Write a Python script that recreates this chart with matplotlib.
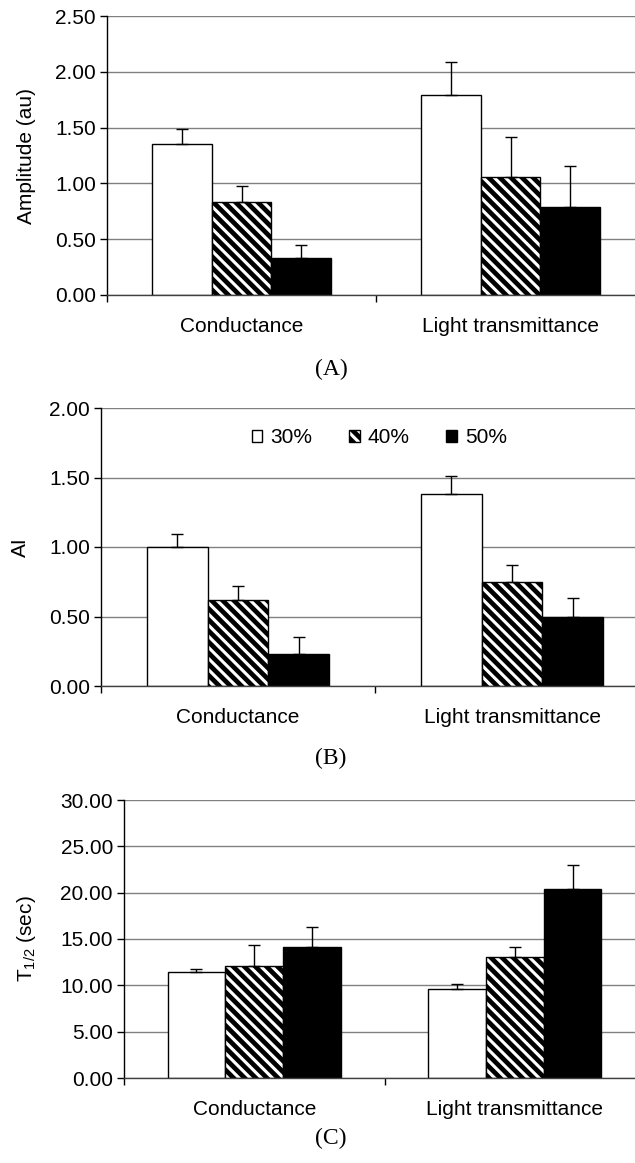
import matplotlib
matplotlib.use("Agg")
import matplotlib.pyplot as plt
from matplotlib.patches import Patch
import numpy as np

plt.rcParams['font.family'] = ['Liberation Sans', 'DejaVu Sans']
plt.rcParams['mathtext.default'] = 'regular'
plt.rcParams['hatch.linewidth'] = 3.4
plt.rcParams['hatch.color'] = 'black'

# ---------------- data ----------------
categories = ["Conductance", "Light transmittance"]
series_labels = ["30%", "40%", "50%"]

# Panel A: Amplitude (au)
amp_30 = [1.35, 1.79]
amp_40 = [0.83, 1.06]
amp_50 = [0.33, 0.79]
amp_30_err = [0.14, 0.30]
amp_40_err = [0.15, 0.36]
amp_50_err = [0.12, 0.37]

# Panel B: AI
ai_30 = [1.00, 1.38]
ai_40 = [0.62, 0.75]
ai_50 = [0.23, 0.50]
ai_30_err = [0.09, 0.13]
ai_40_err = [0.10, 0.12]
ai_50_err = [0.12, 0.13]

# Panel C: T1/2 (sec)
t_30 = [11.45, 9.60]
t_40 = [12.05, 13.05]
t_50 = [14.10, 20.35]
t_30_err = [0.30, 0.55]
t_40_err = [2.35, 1.05]
t_50_err = [2.15, 2.65]

yticks_a = [0.0, 0.5, 1.0, 1.5, 2.0, 2.5]
yticks_b = [0.0, 0.5, 1.0, 1.5, 2.0]
yticks_c = [0, 5, 10, 15, 20, 25, 30]

# ---------------- layout ----------------
W, H = 635, 1163
fig = plt.figure(figsize=(W / 100, H / 100), dpi=100)

def rect(left, right, top, bottom):
    return [left / W, (H - bottom) / H, (right - left) / W, (bottom - top) / H]

FS = 15
styles = [dict(facecolor='white', hatch=None),
          dict(facecolor='white', hatch='\\\\\\'),
          dict(facecolor='black', hatch=None)]

def panel(r, s30, s40, s50, e30, e40, e50, yticks, ylabel, ylabel_x,
          panel_label, plx, ply):
    ax = fig.add_axes(rect(*r))
    x = np.arange(len(categories)) + 0.5
    w = 0.222
    for i, (vals, errs) in enumerate([(s30, e30), (s40, e40), (s50, e50)]):
        xi = x + (i - 1) * w
        ax.bar(xi, vals, width=w, edgecolor='black', linewidth=1.0,
               zorder=2, label=series_labels[i], **styles[i])
        ax.errorbar(xi, vals, yerr=[np.zeros(len(vals)), errs], fmt='none',
                    ecolor='black', elinewidth=1.0, capsize=4, capthick=1.0,
                    zorder=3)
    ax.set_xlim(0, len(categories))
    ax.set_ylim(yticks[0], yticks[-1])
    ax.set_yticks(yticks)
    ax.set_yticklabels([f"{t:.2f}" for t in yticks], fontsize=FS)
    ax.set_xticks([0, 1, 2])
    ax.set_xticklabels([])
    ax.tick_params(axis='x', length=5, width=1, direction='out', color='black')
    ax.tick_params(axis='y', length=5, width=1, direction='out', pad=3,
                   color='black')
    ax.yaxis.grid(True, color='#808080', linewidth=1.0)
    ax.set_axisbelow(True)
    for s in ['top', 'right']:
        ax.spines[s].set_visible(False)
    ax.spines['left'].set_color('black')
    ax.spines['left'].set_linewidth(1.0)
    ax.spines['bottom'].set_color('#404040')
    ax.spines['bottom'].set_linewidth(1.0)
    for xc, lab in zip(x, categories):
        ax.annotate(lab, xy=(xc, 0), xycoords=('data', 'axes fraction'),
                    xytext=(0, -22.5), textcoords='offset points',
                    ha='center', va='center', fontsize=FS)
    ycen = (r[2] + r[3]) / 2
    fig.text(ylabel_x / W, 1 - ycen / H, ylabel, rotation=90,
             ha='center', va='center', fontsize=FS)
    fig.text(plx / W, 1 - ply / H, panel_label, ha='center', va='center',
             fontsize=17, family=['Liberation Serif', 'DejaVu Serif'])
    return ax

axA = panel((107, 645, 16, 295), amp_30, amp_40, amp_50,
            amp_30_err, amp_40_err, amp_50_err, yticks_a,
            "Amplitude (au)", 26, "(A)", 331, 369)
axB = panel((101, 649, 408, 686), ai_30, ai_40, ai_50,
            ai_30_err, ai_40_err, ai_50_err, yticks_b,
            "AI", 20, "(B)", 331, 758)
axC = panel((124, 645, 800, 1078), t_30, t_40, t_50,
            t_30_err, t_40_err, t_50_err, yticks_c,
            "T$_{1/2}$ (sec)", 26, "(C)", 331, 1138)

handles = [Patch(facecolor='white', edgecolor='black', linewidth=1.0),
           Patch(facecolor='white', edgecolor='black', linewidth=1.0,
                 hatch='\\\\\\'),
           Patch(facecolor='black', edgecolor='black', linewidth=1.0)]
axB.legend(handles, series_labels, ncol=3, loc='center',
           bbox_to_anchor=((379.5 - 101) / 548, (686 - 437.7) / 278),
           frameon=False, fontsize=FS, handlelength=0.5, handleheight=0.5,
           handletextpad=0.4, columnspacing=1.75, borderaxespad=0,
           borderpad=0)

fig.savefig("out.png", dpi=100)
